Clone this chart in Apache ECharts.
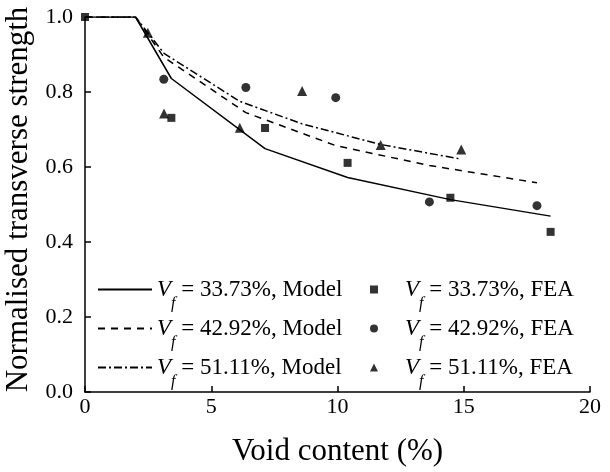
<!DOCTYPE html>
<html><head><meta charset="utf-8">
<script src="https://cdn.jsdelivr.net/npm/echarts@6/dist/echarts.min.js"></script>
<style>html,body{margin:0;padding:0;background:#fff}#c{width:610px;height:472px}</style>
</head><body><div id="c"></div>
<script>
const vfLabels = ['33.73', '42.92', '51.11'];
// Model curves
const model1X = [0, 2, 3.42, 7.13, 10.4, 14.47, 18.44];
const model1Y = [1.0, 1.0, 0.836, 0.649, 0.572, 0.513, 0.469];
const model2X = [0, 2, 3.12, 6.37, 9.93, 13.64, 17.9];
const model2Y = [1.0, 1.0, 0.893, 0.745, 0.657, 0.604, 0.558];
const model3X = [0, 2, 3.13, 6.13, 8.6, 11.71, 14.9];
const model3Y = [1.0, 1.0, 0.903, 0.775, 0.715, 0.66, 0.621];
// FEA points
const fea1X = [0, 3.42, 7.13, 10.4, 14.47, 18.44];
const fea1Y = [1.0, 0.731, 0.704, 0.611, 0.518, 0.427];
const fea2X = [3.12, 6.37, 9.93, 13.64, 17.9];
const fea2Y = [0.834, 0.812, 0.785, 0.507, 0.497];
const fea3X = [2.49, 3.13, 6.13, 8.6, 11.71, 14.9];
const fea3Y = [0.958, 0.743, 0.705, 0.803, 0.659, 0.647];
const xTicks = {min: 0, max: 20, interval: 5};
const yTicks = {min: 0, max: 1, interval: 0.2};

const FONT = 'Liberation Serif';
const zip = (xs, ys) => xs.map((x, i) => [x, ys[i]]);
const modelNames = vfLabels.map(v => 'Vf = ' + v + '%, Model');
const feaNames = vfLabels.map(v => 'Vf = ' + v + '%, FEA');
const dashes = ['solid', [7, 6], [8, 3, 2, 3]];
const modelData = [zip(model1X, model1Y), zip(model2X, model2Y), zip(model3X, model3Y)];
const feaData = [zip(fea1X, fea1Y), zip(fea2X, fea2Y), zip(fea3X, fea3Y)];
const symbols = ['rect', 'circle', 'triangle'];
const symSizes = [8, 9, 10];

const series = [];
modelNames.forEach((n, i) => series.push({
  name: n, type: 'line', data: modelData[i], symbol: 'none', showSymbol: false,
  lineStyle: {color: '#000', width: 1.5, type: dashes[i], opacity: 1},
  itemStyle: {color: '#000', opacity: 0},
  animation: false, z: 2
}));
feaNames.forEach((n, i) => series.push({
  name: n, type: 'scatter', data: feaData[i], symbol: symbols[i], symbolSize: symSizes[i],
  symbolKeepAspect: true, itemStyle: {color: '#000'}, animation: false, z: i === 0 ? 5 : 3
}));

const fmt = name => '{v|V}{s|f}{n|' + name.replace(/^Vf/, '') + '}';
const LH = 44;
const mkRich = padLeft => ({
  v: {fontFamily: FONT, fontStyle: 'italic', fontSize: 23, lineHeight: LH, color: '#000', padding: [0, 0, 0, padLeft]},
  s: {fontFamily: FONT, fontStyle: 'italic', fontSize: 16, lineHeight: 16, verticalAlign: 'bottom', color: '#000'},
  n: {fontFamily: FONT, fontSize: 23, lineHeight: LH, color: '#000'}
});
const legendBase = {
  orient: 'vertical', padding: 0, itemGap: 5.5, formatter: fmt, selectedMode: false
};

const chart = echarts.init(document.getElementById('c'), null, {renderer: 'canvas'});
chart.setOption({
  animation: false,
  backgroundColor: '#fff',
  grid: {left: 85, right: 20, top: 17, bottom: 80, containLabel: false, outerBoundsMode: 'none'},
  legend: [
    Object.assign({}, legendBase, {left: 97, top: 278, data: modelNames, itemWidth: 54, itemHeight: 14,
      textStyle: {fontFamily: FONT, fontSize: 23, color: '#000', rich: mkRich(0)}}),
    Object.assign({}, legendBase, {left: 370, top: 278, data: feaNames, itemWidth: 8, itemHeight: 8,
      textStyle: {fontFamily: FONT, fontSize: 23, color: '#000', rich: mkRich(22)}})
  ],
  xAxis: {
    type: 'value', min: xTicks.min, max: xTicks.max, interval: xTicks.interval,
    name: 'Void content (%)', nameLocation: 'middle', nameGap: 44,
    nameTextStyle: {fontFamily: FONT, fontSize: 31, color: '#000'},
    axisLine: {show: true, lineStyle: {color: '#000', width: 1.5}},
    axisTick: {show: true, inside: true, length: 6, lineStyle: {color: '#000', width: 1.5}},
    axisLabel: {fontFamily: FONT, fontSize: 22, color: '#000', margin: 4},
    splitLine: {show: false}
  },
  yAxis: {
    type: 'value', min: yTicks.min, max: yTicks.max, interval: yTicks.interval,
    name: 'Normalised transverse strength', nameLocation: 'middle', nameGap: 40,
    nameTextStyle: {fontFamily: FONT, fontSize: 31, color: '#000', padding: [0, 0, 0, 10]},
    axisLine: {show: true, lineStyle: {color: '#000', width: 1.5}},
    axisTick: {show: true, inside: true, length: 6, lineStyle: {color: '#000', width: 1.5}},
    axisLabel: {fontFamily: FONT, fontSize: 22, color: '#000', margin: 12,
      formatter: v => v.toFixed(1)},
    splitLine: {show: false}
  },
  series: series
});
</script></body></html>
